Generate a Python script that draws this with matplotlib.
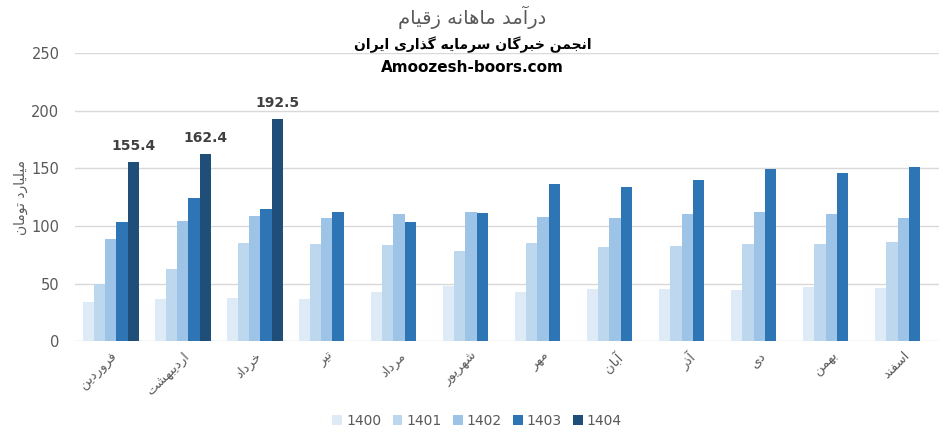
import numpy as np
import matplotlib as mpl
mpl.use("Agg")
import matplotlib.pyplot as plt

mpl.rcParams.update({
    "font.family": ["DejaVu Sans"],
    "font.size": 10,
})
NUM_FONT = ["Liberation Sans Narrow", "DejaVu Sans"]

months = ["فروردین", "اردیبهشت", "خرداد", "تیر", "مرداد", "شهریور",
          "مهر", "آبان", "آذر", "دی", "بهمن", "اسفند"]
years = ["1400", "1401", "1402", "1403", "1404"]
v1400 = [34, 36.5, 37.5, 36.5, 43, 47.5, 43, 45, 45, 44, 47, 46]
v1401 = [49.5, 63, 85.5, 84.5, 83.5, 78, 85, 81.5, 82.5, 84, 84, 86]
v1402 = [89, 104.5, 109, 106.5, 110, 112, 108, 107, 110, 112, 110.5, 107]
v1403 = [103, 124.5, 115, 112, 103.5, 111.5, 136.5, 134, 139.5, 149.5, 146, 151]
v1404 = [155.4, 162.4, 192.5]
colors = ["#deebf7", "#bdd7ee", "#9dc3e6", "#2e75b6", "#1f4e79"]

title = "درآمد ماهانه زقیام"
subtitle = "انجمن خبرگان سرمایه گذاری ایران"
site = "Amoozesh-boors.com"
ylabel = "میلیارد تومان"

# --- minimal Persian shaping (presentation forms) ---
FORMS = {
    "ا": ("\uFE8D", "\uFE8E"), "آ": ("\uFE81", "\uFE82"),
    "د": ("\uFEA9", "\uFEAA"), "ذ": ("\uFEAB", "\uFEAC"),
    "ر": ("\uFEAD", "\uFEAE"), "ز": ("\uFEAF", "\uFEB0"),
    "و": ("\uFEED", "\uFEEE"),
    "ب": ("\uFE8F", "\uFE90", "\uFE91", "\uFE92"),
    "ت": ("\uFE95", "\uFE96", "\uFE97", "\uFE98"),
    "ج": ("\uFE9D", "\uFE9E", "\uFE9F", "\uFEA0"),
    "خ": ("\uFEA5", "\uFEA6", "\uFEA7", "\uFEA8"),
    "س": ("\uFEB1", "\uFEB2", "\uFEB3", "\uFEB4"),
    "ش": ("\uFEB5", "\uFEB6", "\uFEB7", "\uFEB8"),
    "ف": ("\uFED1", "\uFED2", "\uFED3", "\uFED4"),
    "ق": ("\uFED5", "\uFED6", "\uFED7", "\uFED8"),
    "ل": ("\uFEDD", "\uFEDE", "\uFEDF", "\uFEE0"),
    "م": ("\uFEE1", "\uFEE2", "\uFEE3", "\uFEE4"),
    "ن": ("\uFEE5", "\uFEE6", "\uFEE7", "\uFEE8"),
    "ه": ("\uFEE9", "\uFEEA", "\uFEEB", "\uFEEC"),
    "ی": ("\uFBFC", "\uFBFD", "\uFBFE", "\uFBFF"),
    "گ": ("\uFB92", "\uFB93", "\uFB94", "\uFB95"),
}


def fa(s):
    out = []
    for i, ch in enumerate(s):
        if ch not in FORMS:
            out.append(ch)
            continue
        prev = s[i - 1] if i > 0 else ""
        nxt = s[i + 1] if i + 1 < len(s) else ""
        join_prev = prev in FORMS and len(FORMS[prev]) == 4
        join_next = len(FORMS[ch]) == 4 and nxt in FORMS
        f = FORMS[ch]
        if join_prev and join_next:
            out.append(f[3])
        elif join_prev:
            out.append(f[1])
        elif join_next:
            out.append(f[2])
        else:
            out.append(f[0])
    return "".join(out)[::-1]


fig = plt.figure(figsize=(9.45, 4.46), dpi=100)
ax = fig.add_axes([0.079, 0.235, 0.915, 0.646])

x = np.arange(len(months))
w = 0.156
series = [v1400, v1401, v1402, v1403, v1404]
for k, (vals, col, yr) in enumerate(zip(series, colors, years)):
    xs = x[:len(vals)] + (k - 2) * w
    bars = ax.bar(xs, vals, width=w, color=col, label=yr, zorder=3)
    if yr == "1404":
        for b, v in zip(bars, vals):
            ax.text(b.get_x() + b.get_width() / 2, v + 8, f"{v:.1f}",
                    ha="center", va="bottom", fontsize=10,
                    fontweight="bold", color="#404040")

ax.set_xlim(-0.5, len(months) - 0.5)
ax.set_ylim(0, 250)
ax.set_yticks(np.arange(0, 251, 50))
ax.yaxis.grid(True, color="#d9d9d9", lw=1, zorder=0)
for s in ax.spines.values():
    s.set_visible(False)
ax.tick_params(length=0, colors="#595959", labelsize=10.5)
ax.tick_params(axis="y", pad=11)
for t in ax.get_yticklabels():
    t.set_family(NUM_FONT)
ax.set_xticks(x)
ax.set_xticklabels([fa(m) for m in months], rotation=45, ha="right",
                   va="top", rotation_mode="anchor", fontsize=9.5,
                   color="#595959")
ax.tick_params(axis="x", pad=6)
ax.set_ylabel(fa(ylabel), color="#595959", fontsize=10)
ax.yaxis.set_label_coords(-0.054, 0.5)

fig.text(0.5, 0.96, fa(title), ha="center", va="center", fontsize=14,
         color="#595959")
fig.text(0.5, 0.90, fa(subtitle), ha="center", va="center", fontsize=10,
         fontweight="bold", color="black")
fig.text(0.5, 0.848, site, ha="center", va="center", fontsize=11,
         fontweight="bold", color="black")

leg = fig.legend(loc="center", bbox_to_anchor=(0.505, 0.056), ncol=5,
                 frameon=False, fontsize=10, handlelength=0.7,
                 handleheight=0.7, handletextpad=0.3, columnspacing=0.8)
for t in leg.get_texts():
    t.set_color("#595959")
    t.set_family(NUM_FONT)

fig.savefig("out.png", dpi=100)
